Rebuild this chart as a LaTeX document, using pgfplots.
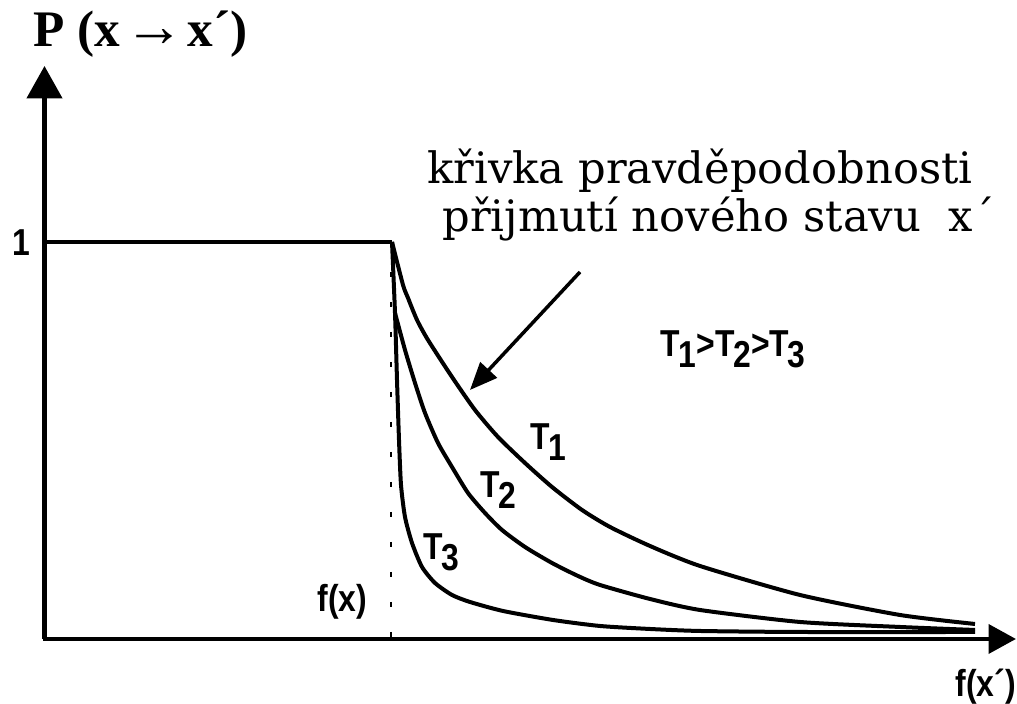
\documentclass[border=0pt]{standalone}
\usepackage{fontspec}
\setmainfont{Liberation Serif}
\newfontfamily\notefont{DejaVu Serif}
\newfontfamily\labfont[FakeStretch=0.85]{Liberation Sans}
\usepackage{pgfplots}
\pgfplotsset{compat=1.18}
\usetikzlibrary{arrows.meta}

\newcommand{\Tsub}[1]{T\kern-0.5pt\raisebox{-4.4pt}{#1}}

\begin{document}
\begin{tikzpicture}
\begin{axis}[
  x=0.4pt, y=0.4pt,
  xmin=0, xmax=1017, ymin=0, ymax=704,
  hide axis, clip=false,
]
% corner points of the picture, for the page size
\coordinate (bl) at (axis cs:0,0);
\coordinate (tr) at (axis cs:1017,704);

% axes
\draw[line width=1.9pt, -{Triangle[length=11pt,width=11.5pt]}] (axis cs:43,65) -- (axis cs:1016,65);
\draw[line width=1.9pt, -{Triangle[length=13pt,width=14pt]}] (axis cs:44.5,65) -- (axis cs:44.5,638);

% f(x) marker
\draw[line width=0.8pt, dash pattern=on 2pt off 10pt] (axis cs:391,462) -- (axis cs:391,66);

% P = 1 up to f(x)
\addplot[black, line width=1.3pt] coordinates {(45,462) (392,462)};

% T1
\addplot[black, line width=1.6pt, smooth, tension=0.4] coordinates {
(392,462) (403,419) (408,406) (417,384) (428,364) (452,327) (475,294)
(498,267) (525,241) (552,217) (582,194) (610,177) (650,158) (700,138)
(800,109) (900,89) (975,80)
};
% T2
\addplot[black, line width=1.6pt, smooth, tension=0.4] coordinates {
(395,391) (405,354) (415,321) (425,291) (438,261) (452,237) (468,211)
(485,191) (502,174) (525,157) (552,141) (578,128) (600,119) (650,105)
(700,94) (800,82) (900,77) (975,74)
};
% T3
\addplot[black, line width=1.6pt, smooth, tension=0.4] coordinates {
(392,462) (395,391) (397,324) (399,264) (401,219) (405,187) (412,161)
(422,137) (435,121) (452,109) (470,102) (503,93) (553,84) (600,78)
(650,75) (700,73) (800,72) (975,72)
};

% pointer
\draw[line width=1.4pt, -{Triangle[length=11pt,width=9pt]}] (axis cs:580,432) -- (axis cs:470,314);

% texts
\node[anchor=base west, inner sep=0] at (axis cs:33,657)
  {\bfseries\fontsize{20.5}{24}\selectfont P (x\kern1.5pt{\fontsize{24}{24}\selectfont →}\kern1.5pt x´)};
\node[anchor=center, inner sep=0] at (axis cs:21.5,461)
  {\labfont\bfseries\fontsize{15}{18}\selectfont 1};
\node[anchor=base west, inner sep=0] at (axis cs:427,520)
  {\notefont\fontsize{17.3}{20}\selectfont křivka pravděpodobnosti};
\node[anchor=base west, inner sep=0] at (axis cs:442,472)
  {\notefont\fontsize{17.3}{20}\selectfont přijmutí nového stavu\ \ x´};
\node[anchor=base west, inner sep=0] at (axis cs:660,347)
  {\labfont\bfseries\fontsize{15}{18}\selectfont \Tsub{1}>\Tsub{2}>\Tsub{3}};
\node[anchor=base west, inner sep=0] at (axis cs:530,254)
  {\labfont\bfseries\fontsize{15}{18}\selectfont \Tsub{1}};
\node[anchor=base west, inner sep=0] at (axis cs:480,206)
  {\labfont\bfseries\fontsize{15}{18}\selectfont \Tsub{2}};
\node[anchor=base west, inner sep=0] at (axis cs:423,144)
  {\labfont\bfseries\fontsize{15}{18}\selectfont \Tsub{3}};
\node[anchor=base west, inner sep=0] at (axis cs:317,92)
  {\labfont\bfseries\fontsize{15}{18}\selectfont f(x)};
\node[anchor=base west, inner sep=0] at (axis cs:955,7)
  {\labfont\bfseries\fontsize{15}{18}\selectfont f(x´)};
\end{axis}
\pgfresetboundingbox
\path[use as bounding box] (bl) rectangle (tr);
\end{tikzpicture}
\end{document}
